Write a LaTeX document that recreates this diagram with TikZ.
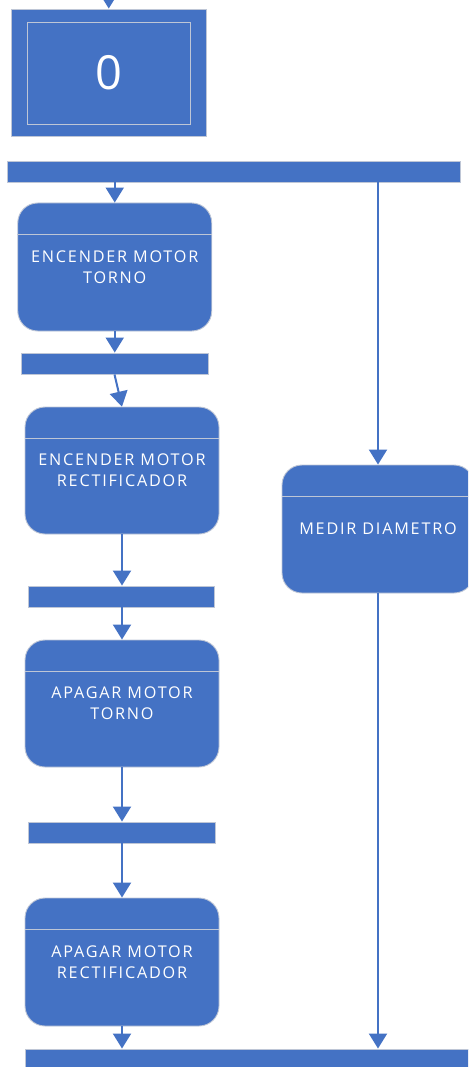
\documentclass[tikz,border=0pt]{standalone}
\usepackage{fontspec}
\setmainfont{Open Sans}[LetterSpace=11]
\usetikzlibrary{arrows.meta}
\definecolor{boxblue}{HTML}{4472C4}
\definecolor{edge}{RGB}{190,198,214}
\tikzset{
  blk/.style={draw=edge, line width=0.9pt, fill=boxblue, inner sep=0pt},
  bar/.style={blk, rectangle},
  activity/.style={blk, rounded corners=20pt, minimum width=194pt, minimum height=128pt,
    text=white, align=center, font=\fontsize{16.2}{21}\selectfont},
  hdr/.style={draw=edge, line width=0.9pt},
  arr/.style={draw=boxblue, line width=2pt, -{Triangle[width=18pt,length=15pt]}},
  lnk/.style={draw=boxblue, line width=2pt}
}
\begin{document}
\begin{tikzpicture}[x=1pt,y=-1pt]
\useasboundingbox (0,0) rectangle (468,1067);
\clip (0,0) rectangle (468,1067);

% initial state
\node[bar, minimum width=194.5pt, minimum height=127pt] (s0) at (108.75,72.5) {};
\node[draw=edge, line width=0.9pt, inner sep=0pt, minimum width=163pt, minimum height=102pt,
  text=white, font=\fontsize{47}{50}\selectfont] (s0in) at (108.5,73) {0};
\coordinate (entry) at (108.75,-20);
\draw[arr] (entry) -- (s0.north);

% fork / join bars
\node[bar, minimum width=452.5pt, minimum height=21pt] (b1) at (233.75,171.5) {};
\node[bar, minimum width=187pt, minimum height=21pt] (b2) at (114.5,363.5) {};
\node[bar, minimum width=186pt, minimum height=21pt] (b3) at (121,596.5) {};
\node[bar, minimum width=187pt, minimum height=21pt] (b4) at (121.5,832.5) {};
\node[bar, minimum width=465pt, minimum height=30pt] (b5) at (257.5,1064) {};

% activities
\node[activity] (a1) at (114.75,267) {ENCENDER MOTOR\\TORNO};
\node[activity, minimum height=127pt] (a2) at (122,470.5) {ENCENDER MOTOR\\RECTIFICADOR};
\node[activity, minimum height=127pt] (a3) at (122,703.5) {APAGAR MOTOR\\TORNO};
\node[activity] (a4) at (122,962) {APAGAR MOTOR\\RECTIFICADOR};
\node[activity, minimum width=192pt] (m) at (378,529) {MEDIR DIAMETRO};

% header lines of the activities
\foreach \n in {a1,a2,a3,a4,m}
  \draw[hdr] ([yshift=-32pt]\n.north west) -- ([yshift=-32pt]\n.north east);

% flow
\draw[arr] (a1.north |- b1.south) -- (a1.north);
\draw[arr] (m.north |- b1.south) -- (m.north);
\draw[arr] (a1.south) -- (a1.south |- b2.north);
\draw[arr] (b2.south) -- (a2.north);
\draw[arr] (a2.south) -- (a2.south |- b3.north);
\draw[arr] (a3.north |- b3.south) -- (a3.north);
\draw[arr] (a3.south) -- (a3.south |- b4.north);
\draw[arr] (a4.north |- b4.south) -- (a4.north);
\draw[arr] (a4.south) -- (a4.south |- b5.north);
\draw[arr] (m.south) -- (m.south |- b5.north);
\end{tikzpicture}
\end{document}
